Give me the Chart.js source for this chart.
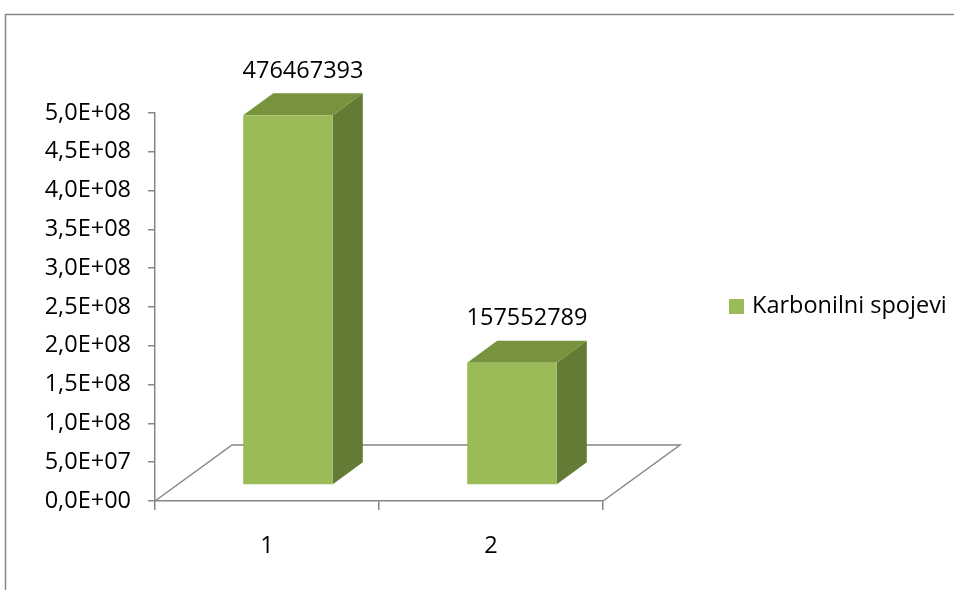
<!DOCTYPE html>
<html>
<head>
<meta charset="utf-8">
<script src="https://cdn.jsdelivr.net/npm/chart.js@4/dist/chart.umd.min.js"></script>
<style>
  html, body { margin: 0; padding: 0; background: #ffffff; }
  #wrap { width: 954px; height: 590px; position: relative; }
</style>
</head>
<body>
<div id="wrap"><canvas id="c" width="954" height="590"></canvas></div>
<script>
// Series data
const categories = ['1', '2'];
const seriesName = 'Karbonilni spojevi';
const carbonylValues = [476467393, 157552789];

// Value axis range
const yMin = 0;
const yMax = 500000000;
const yStep = 50000000;

const FONT = { family: '"Open Sans", sans-serif', size: 23.5 };
const AXIS_GREY = '#868686';
const FRONT = '#9BBB59';
const TOP = '#77933C';
const SIDE = '#637B34';

// Excel-like scientific label: 4,5E+08
function sciLabel(v) {
  if (v === 0) return '0,0E+00';
  const exp = Math.floor(Math.log10(v) + 1e-9);
  const mant = v / Math.pow(10, exp);
  return mant.toFixed(1).replace('.', ',') + 'E+' + String(exp).padStart(2, '0');
}

// Draws the floor, 3D columns, value labels, legend and frame
const columns3d = {
  id: 'columns3d',
  beforeDraw(chart) {
    const ctx = chart.ctx;
    ctx.save();
    ctx.fillStyle = '#ffffff';
    ctx.fillRect(0, 0, chart.width, chart.height);
    ctx.strokeStyle = AXIS_GREY;
    ctx.lineWidth = 1.5;
    ctx.beginPath();
    ctx.moveTo(5.5, chart.height);
    ctx.lineTo(5.5, 14.5);
    ctx.lineTo(chart.width, 14.5);
    ctx.stroke();
    ctx.restore();
  },
  beforeDatasetsDraw(chart) {
    const ctx = chart.ctx;
    const xs = chart.scales.x, ys = chart.scales.y;
    const y0 = ys.getPixelForValue(0);
    const l = xs.left, r = xs.right;
    const dx = 77, dy = -56;
    ctx.save();
    ctx.strokeStyle = AXIS_GREY;
    ctx.lineWidth = 1.5;
    ctx.beginPath();
    ctx.moveTo(l, y0);
    ctx.lineTo(l + dx, y0 + dy);
    ctx.lineTo(r + dx, y0 + dy);
    ctx.lineTo(r, y0);
    ctx.stroke();
    ctx.restore();
  },
  beforeDatasetDraw() {
    return false;
  },
  afterDatasetsDraw(chart) {
    const ctx = chart.ctx;
    const meta = chart.getDatasetMeta(0);
    const data = chart.data.datasets[0].data;
    const sx = 21, sy = -16;   // depth position of the column front
    const dx = 30, dy = -22;   // column depth
    ctx.save();
    meta.data.forEach((el, i) => {
      const p = el.getProps(['x', 'y', 'base', 'width'], true);
      const L = p.x - p.width / 2 + sx;
      const R = p.x + p.width / 2 + sx;
      const T = p.y + sy;
      const B = p.base + sy;
      // side face
      ctx.fillStyle = SIDE;
      ctx.beginPath();
      ctx.moveTo(R, T);
      ctx.lineTo(R + dx, T + dy);
      ctx.lineTo(R + dx, B + dy);
      ctx.lineTo(R, B);
      ctx.closePath();
      ctx.fill();
      // top face
      ctx.fillStyle = TOP;
      ctx.beginPath();
      ctx.moveTo(L, T);
      ctx.lineTo(L + dx, T + dy);
      ctx.lineTo(R + dx, T + dy);
      ctx.lineTo(R, T);
      ctx.closePath();
      ctx.fill();
      // front face
      ctx.fillStyle = FRONT;
      ctx.fillRect(L, T, R - L, B - T);
      // value label
      ctx.fillStyle = '#000000';
      ctx.font = FONT.size + 'px ' + FONT.family;
      ctx.textAlign = 'center';
      ctx.textBaseline = 'middle';
      ctx.fillText(String(data[i]), (L + R) / 2 + 15, T + dy - 22);
    });
    // legend
    ctx.fillStyle = FRONT;
    ctx.fillRect(729, 299, 15, 15);
    ctx.fillStyle = '#000000';
    ctx.textAlign = 'left';
    ctx.textBaseline = 'middle';
    ctx.font = FONT.size + 'px ' + FONT.family;
    ctx.fillText(chart.data.datasets[0].label, 752, 306);
    ctx.restore();
  }
};

new Chart(document.getElementById('c'), {
  type: 'bar',
  data: {
    labels: categories,
    datasets: [{
      label: seriesName,
      data: carbonylValues,
      backgroundColor: FRONT,
      barPercentage: 0.4,
      categoryPercentage: 1.0
    }]
  },
  options: {
    responsive: false,
    devicePixelRatio: 1,
    animation: false,
    layout: { padding: { left: 0, top: 113, right: 351, bottom: 0 } },
    plugins: {
      legend: { display: false },
      tooltip: { enabled: false },
      title: { display: false }
    },
    scales: {
      x: {
        afterFit(s) { s.height = 89; },
        grid: {
          offset: true,
          drawOnChartArea: false,
          drawTicks: true,
          tickLength: 9,
          color: AXIS_GREY,
          lineWidth: 1.5
        },
        border: { display: true, color: AXIS_GREY, width: 1.5 },
        ticks: { font: FONT, color: '#000000', padding: 22 }
      },
      y: {
        min: yMin,
        max: yMax,
        afterFit(s) { s.width = 155; },
        grid: {
          drawOnChartArea: false,
          drawTicks: true,
          tickLength: 7,
          color: AXIS_GREY,
          lineWidth: 1.5
        },
        border: { display: true, color: AXIS_GREY, width: 1.5 },
        ticks: {
          stepSize: yStep,
          font: FONT,
          color: '#000000',
          padding: 17,
          callback: (v) => sciLabel(v)
        }
      }
    }
  },
  plugins: [columns3d]
});
</script>
</body>
</html>
